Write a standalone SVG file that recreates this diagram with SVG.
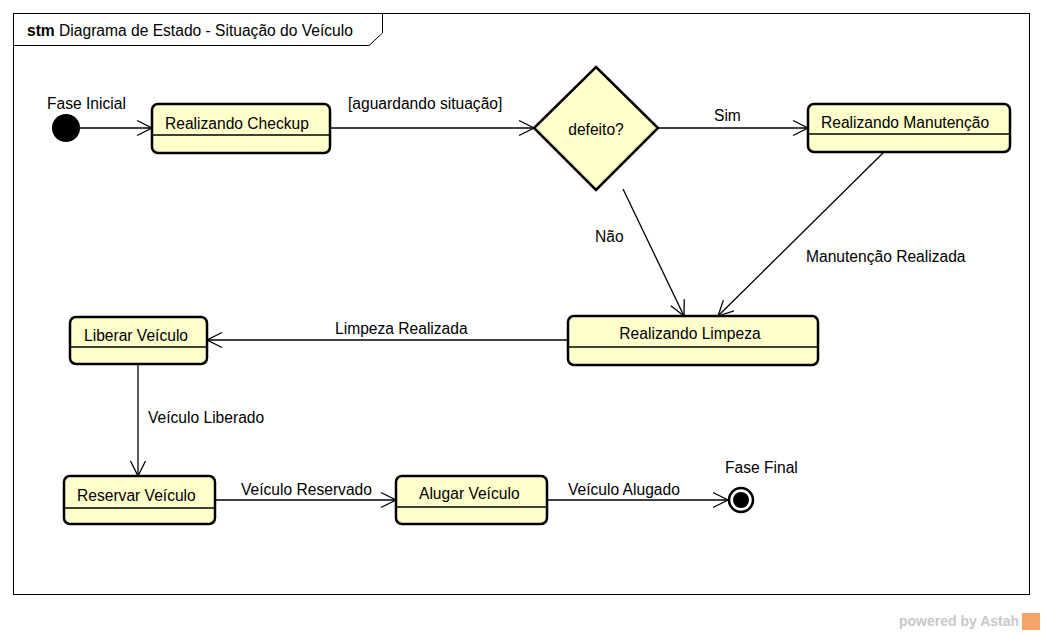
<svg xmlns="http://www.w3.org/2000/svg" width="1044" height="634" viewBox="0 0 1044 634">
  <style>
    text { font-family: "Liberation Sans", Arial, sans-serif; font-size: 15.6px; fill: #000; }
    .state { fill: #ffffcc; stroke: #000; stroke-width: 2.5; }
    .div { stroke: #000; stroke-width: 1.3; fill: none; }
    .edge { stroke: #000; stroke-width: 1.3; fill: none; marker-end: url(#open); }
    .frame { fill: none; stroke: #000; stroke-width: 1; }
    .wm { font-weight: bold; fill: #c8c8c8; font-size: 14px; }
  </style>
  <defs>
    <marker id="open" markerUnits="userSpaceOnUse" markerWidth="20" markerHeight="20" viewBox="-17 -10 20 20" refX="0" refY="0" orient="auto" overflow="visible">
      <path d="M-15,-7.5 L0,0 L-15,7.5" fill="none" stroke="#000" stroke-width="1.3"/>
    </marker>
  </defs>
  <rect width="1044" height="634" fill="#fff"/>

  <!-- diagram frame -->
  <g id="frame">
    <rect class="frame" x="13.5" y="13.5" width="1016" height="581"/>
    <polyline class="frame" points="13.5,45.5 369,45.5 382.5,33 382.5,13.5"/>
    <text x="27" y="36"><tspan font-weight="bold">stm</tspan> Diagrama de Estado - Situação do Veículo</text>
  </g>

  <!-- transitions -->
  <g id="connectors">
    <line class="edge" x1="80" y1="128" x2="152" y2="128"/>
    <line class="edge" x1="330" y1="128" x2="534" y2="128"/>
    <text x="348" y="109">[aguardando situação]</text>
    <line class="edge" x1="658" y1="128" x2="808" y2="128"/>
    <text x="714" y="121">Sim</text>
    <line class="edge" x1="623" y1="189" x2="684" y2="316"/>
    <text x="595" y="242">Não</text>
    <line class="edge" x1="884" y1="152" x2="718" y2="316"/>
    <text x="806" y="262">Manutenção Realizada</text>
    <line class="edge" x1="568" y1="340" x2="207" y2="340"/>
    <text x="335" y="334">Limpeza Realizada</text>
    <line class="edge" x1="138" y1="364" x2="138" y2="476"/>
    <text x="148" y="423">Veículo Liberado</text>
    <line class="edge" x1="215" y1="500" x2="396" y2="500"/>
    <text x="241" y="495">Veículo Reservado</text>
    <line class="edge" x1="547" y1="500" x2="728" y2="500"/>
    <text x="568" y="495">Veículo Alugado</text>
  </g>

  <g id="inicial">
    <circle cx="66" cy="128" r="14" fill="#000"/>
    <text x="47" y="109">Fase Inicial</text>
  </g>

  <g id="checkup">
    <rect class="state" x="152" y="104" width="178" height="49" rx="6"/>
    <line class="div" x1="152" y1="135" x2="330" y2="135"/>
    <text x="165" y="129">Realizando Checkup</text>
  </g>

  <g id="defeito">
    <polygon class="state" points="596,67 658,128 596,190 534,128"/>
    <text x="596" y="135" text-anchor="middle">defeito?</text>
  </g>

  <g id="manutencao">
    <rect class="state" x="808" y="104" width="202" height="48" rx="6"/>
    <line class="div" x1="808" y1="134" x2="1010" y2="134"/>
    <text x="821" y="128">Realizando Manutenção</text>
  </g>

  <g id="limpeza">
    <rect class="state" x="568" y="316" width="250" height="49" rx="6"/>
    <line class="div" x1="568" y1="347" x2="818" y2="347"/>
    <text x="690" y="339" text-anchor="middle">Realizando Limpeza</text>
  </g>

  <g id="liberar">
    <rect class="state" x="70" y="317" width="137" height="47" rx="6"/>
    <line class="div" x1="70" y1="347" x2="207" y2="347"/>
    <text x="84" y="341">Liberar Veículo</text>
  </g>

  <g id="reservar">
    <rect class="state" x="64" y="476" width="151" height="48" rx="6"/>
    <line class="div" x1="64" y1="508" x2="215" y2="508"/>
    <text x="77" y="501">Reservar Veículo</text>
  </g>

  <g id="alugar">
    <rect class="state" x="396" y="476" width="151" height="48" rx="6"/>
    <line class="div" x1="396" y1="507" x2="547" y2="507"/>
    <text x="419" y="499">Alugar Veículo</text>
  </g>

  <g id="final">
    <circle cx="741" cy="500" r="12" fill="#fff" stroke="#000" stroke-width="2.5"/>
    <circle cx="741" cy="500" r="8" fill="#000"/>
    <text x="725" y="473">Fase Final</text>
  </g>

  <!-- tool watermark -->
  <g id="watermark">
    <text class="wm" x="899" y="626">powered by Astah</text>
    <rect x="1022" y="613" width="18" height="17" fill="#f5a36a"/>
  </g>
</svg>
